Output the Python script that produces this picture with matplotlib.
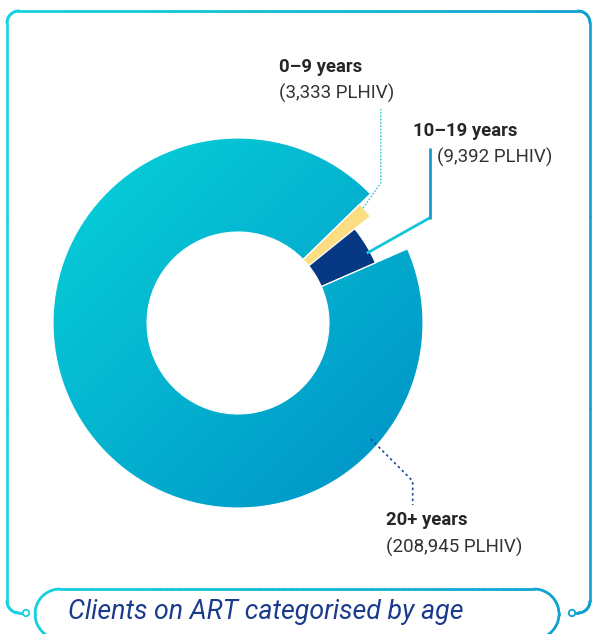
import numpy as np
import matplotlib.pyplot as plt
from matplotlib.patches import Wedge, Circle
from matplotlib.collections import LineCollection
from matplotlib.colors import LinearSegmentedColormap

# data
labels = ["0–9 years", "10–19 years", "20+ years"]
counts = [3333, 9392, 208945]
count_labels = ["(3,333 PLHIV)", "(9,392 PLHIV)", "(208,945 PLHIV)"]
title = "Clients on ART categorised by age"

W, H = 592, 634
plt.rcParams["font.family"] = ["Roboto", "DejaVu Sans"]

fig = plt.figure(figsize=(W / 100, H / 100), dpi=100)
ax = fig.add_axes([0, 0, 1, 1])
ax.set_xlim(0, W)
ax.set_ylim(H, 0)
ax.axis("off")

frame_cmap = LinearSegmentedColormap.from_list("frame", ["#16D4DF", "#10A0D2"])
donut_cmap = LinearSegmentedColormap.from_list("donut", ["#08D3D9", "#0090C6"])


def arc(cx, cy, r, a0, a1, n=40):
    a = np.radians(np.linspace(a0, a1, n))
    return np.column_stack([cx + r * np.cos(a), cy - r * np.sin(a)])


def grad_line(pts, lw=1.9, zorder=5):
    pts = np.asarray(pts, dtype=float)
    segs = np.stack([pts[:-1], pts[1:]], axis=1)
    xm = segs[:, :, 0].mean(axis=1) / W
    lc = LineCollection(segs, colors=frame_cmap(xm), linewidths=lw,
                        capstyle="round", zorder=zorder)
    ax.add_collection(lc)


def dense(p0, p1, n=60):
    return np.column_stack([np.linspace(p0[0], p1[0], n), np.linspace(p0[1], p1[1], n)])


# outer frame
frame = np.vstack([
    dense((23, 613), (19, 613), 3),
    arc(19, 601, 12, 270, 180),
    dense((7, 601), (7, 23), 4),
    arc(19, 23, 12, 180, 90),
    dense((19, 11), (578, 11), 200),
    arc(578, 23, 12, 90, 0),
    dense((590, 23), (590, 601), 4),
    arc(578, 601, 12, 0, -90),
    dense((578, 613), (575, 613), 3),
])
grad_line(frame)
for x in (26, 572):
    ax.add_patch(Circle((x, 613), 3.2, facecolor="white",
                        edgecolor=frame_cmap(x / W), lw=1.3, zorder=6))

# title pill
pill = np.vstack([
    arc(60, 614, 25, 270, 90),
    dense((60, 589), (534, 589), 200),
    arc(534, 614, 25, 90, -90),
])
grad_line(pill)
ax.text(68, 612, title, fontsize=19.3, style="italic", color="#1B3C8C",
        ha="left", va="center")

# donut
cx, cy = 238, 323
r_in = 91
r_out = [170, 150, 185]
colors = ["#FDDD82", "#073883", None]
start = 44.3

spans = np.array(counts) / sum(counts) * 360
ends = start - np.cumsum(spans)
begins = ends + spans

for i in range(len(counts)):
    w = Wedge((cx, cy), r_out[i], -begins[i], -ends[i], width=r_out[i] - r_in,
              facecolor=colors[i] if colors[i] else "none",
              edgecolor="white", lw=0.8, zorder=3)
    ax.add_patch(w)
    if colors[i] is None:
        R = r_out[i]
        g = np.linspace(0, 1, 300)
        img = (g[None, :] + g[:, None]) / 2
        im = ax.imshow(img, cmap=donut_cmap, extent=(cx - R, cx + R, cy + R, cy - R),
                       origin="upper", zorder=2, interpolation="bilinear")
        im.set_clip_path(w)
        ax.set_xlim(0, W)
        ax.set_ylim(H, 0)

# leader lines
ax.plot([363, 380.7, 380.7], [208, 183.3, 109], color="#38C4DF", lw=1.0,
        ls=(0, (1.2, 1.2)), zorder=4)
ax.plot([366.7, 430], [253.3, 217.7], color="#12C6D8", lw=2.0, zorder=4,
        solid_capstyle="butt")
ax.plot([430, 430], [218.5, 148], color="#1898CF", lw=2.0, zorder=4,
        solid_capstyle="butt")
ax.plot([370.7, 412.7, 412.7], [439, 481, 505], color="#1F4B98", lw=1.2,
        ls=(0, (1.5, 1.8)), zorder=4)

# labels
label_pos = [(279, 67, 279, 93), (413, 131, 437, 157), (386, 520, 386, 547)]
for lab, cl, (x1, y1, x2, y2) in zip(labels, count_labels, label_pos):
    ax.text(x1, y1, lab, fontsize=13.3, fontweight="bold", color="#262626",
            ha="left", va="center")
    ax.text(x2, y2, cl, fontsize=13.5, color="#333333", ha="left", va="center")

fig.savefig("out.png", dpi=100)
